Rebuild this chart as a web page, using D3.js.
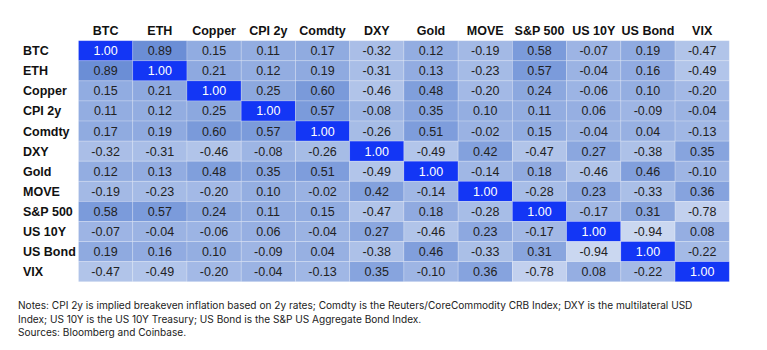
<!DOCTYPE html>
<html>
<head>
<meta charset="utf-8">
<script src="https://cdn.jsdelivr.net/npm/d3@7"></script>
<style>
  body { margin: 0; background: #fff; }
</style>
</head>
<body>
<div id="canvas"></div>
<script>
"use strict"

/* Chart data */
let assets = ["BTC", "ETH", "Copper", "CPI 2y", "Comdty", "DXY", "Gold", "MOVE", "S&P 500", "US 10Y", "US Bond", "VIX"];

let corr = [
    [ 1.00,  0.89,  0.15,  0.11,  0.17, -0.32,  0.12, -0.19,  0.58, -0.07,  0.19, -0.47],
    [ 0.89,  1.00,  0.21,  0.12,  0.19, -0.31,  0.13, -0.23,  0.57, -0.04,  0.16, -0.49],
    [ 0.15,  0.21,  1.00,  0.25,  0.60, -0.46,  0.48, -0.20,  0.24, -0.06,  0.10, -0.20],
    [ 0.11,  0.12,  0.25,  1.00,  0.57, -0.08,  0.35,  0.10,  0.11,  0.06, -0.09, -0.04],
    [ 0.17,  0.19,  0.60,  0.57,  1.00, -0.26,  0.51, -0.02,  0.15, -0.04,  0.04, -0.13],
    [-0.32, -0.31, -0.46, -0.08, -0.26,  1.00, -0.49,  0.42, -0.47,  0.27, -0.38,  0.35],
    [ 0.12,  0.13,  0.48,  0.35,  0.51, -0.49,  1.00, -0.14,  0.18, -0.46,  0.46, -0.10],
    [-0.19, -0.23, -0.20,  0.10, -0.02,  0.42, -0.14,  1.00, -0.28,  0.23, -0.33,  0.36],
    [ 0.58,  0.57,  0.24,  0.11,  0.15, -0.47,  0.18, -0.28,  1.00, -0.17,  0.31, -0.78],
    [-0.07, -0.04, -0.06,  0.06, -0.04,  0.27, -0.46,  0.23, -0.17,  1.00, -0.94,  0.08],
    [ 0.19,  0.16,  0.10, -0.09,  0.04, -0.38,  0.46, -0.33,  0.31, -0.94,  1.00, -0.22],
    [-0.47, -0.49, -0.20, -0.04, -0.13,  0.35, -0.10,  0.36, -0.78,  0.08, -0.22,  1.00]
];

let notes = [
    "Notes: CPI 2y is implied breakeven inflation based on 2y rates; Comdty is the Reuters/CoreCommodity CRB Index; DXY is the multilateral USD",
    "Index; US 10Y is the US 10Y Treasury; US Bond is the S&P US Aggregate Bond Index.",
    "Sources: Bloomberg and Coinbase."
];

/* Drawing config */
let svgWidth = 767;
let svgHeight = 350;
let gridLeft = 78.5, gridRight = 729.3;
let gridTop = 40.7, gridBottom = 281.7;

let svg = d3.select("#canvas")
    .append("svg")
    .attr("width", svgWidth)
    .attr("height", svgHeight);

let cells = [];
corr.forEach((row, i) => row.forEach((v, j) => cells.push({ row: assets[i], col: assets[j], value: v })));

let xScale = d3.scaleBand().domain(assets).range([gridLeft, gridRight]);
let yScale = d3.scaleBand().domain(assets).range([gridTop, gridBottom]);

// light blue for -1 up to mid blue, saturated blue at 1
let colorScale = d3.scaleLinear()
    .domain([-1, 0.9, 0.999, 1])
    .range(["#cdd9f1", "#6a8ed6", "#6a8ed6", "#1336f5"]);

// plain hyphen for negatives, like the source table
let fmt = d3.formatLocale({ decimal: ".", thousands: ",", grouping: [3], currency: ["", ""], minus: "-" }).format(".2f");

svg.selectAll("rect.cell")
    .data(cells)
    .join("rect")
    .attr("class", "cell")
    .attr("x", d => xScale(d.col))
    .attr("y", d => yScale(d.row))
    .attr("width", xScale.bandwidth())
    .attr("height", yScale.bandwidth())
    .attr("fill", d => colorScale(d.value))
    .attr("stroke", "rgba(255,255,255,0.25)")
    .attr("stroke-width", 0.8);

svg.selectAll("text.val")
    .data(cells)
    .join("text")
    .attr("class", "val")
    .attr("x", d => xScale(d.col) + xScale.bandwidth() / 2)
    .attr("y", d => yScale(d.row) + yScale.bandwidth() / 2 + 4.5)
    .attr("text-anchor", "middle")
    .style("font-family", "Liberation Sans, Arial, sans-serif")
    .style("font-size", "12.5px")
    .attr("fill", d => d.value === 1 ? "#ffffff" : "#222222")
    .text(d => fmt(d.value));

/* column headers */
svg.selectAll("text.colhead")
    .data(assets)
    .join("text")
    .attr("class", "colhead")
    .attr("x", d => xScale(d) + xScale.bandwidth() / 2)
    .attr("y", 35)
    .attr("text-anchor", "middle")
    .style("font-family", "Liberation Sans, Arial, sans-serif")
    .style("font-size", "12.5px")
    .style("font-weight", "bold")
    .attr("fill", "#111")
    .text(d => d);

/* row headers */
svg.selectAll("text.rowhead")
    .data(assets)
    .join("text")
    .attr("class", "rowhead")
    .attr("x", 23)
    .attr("y", d => yScale(d) + yScale.bandwidth() / 2 + 4.5)
    .style("font-family", "Liberation Sans, Arial, sans-serif")
    .style("font-size", "12.5px")
    .style("font-weight", "bold")
    .attr("fill", "#111")
    .text(d => d);

/* notes */
svg.selectAll("text.note")
    .data(notes)
    .join("text")
    .attr("class", "note")
    .attr("x", 18)
    .attr("y", (d, i) => 309 + i * 13.5)
    .style("font-family", "Inter, sans-serif")
    .style("font-size", "10.1px")
    .attr("fill", "#222")
    .text(d => d);
</script>
</body>
</html>
